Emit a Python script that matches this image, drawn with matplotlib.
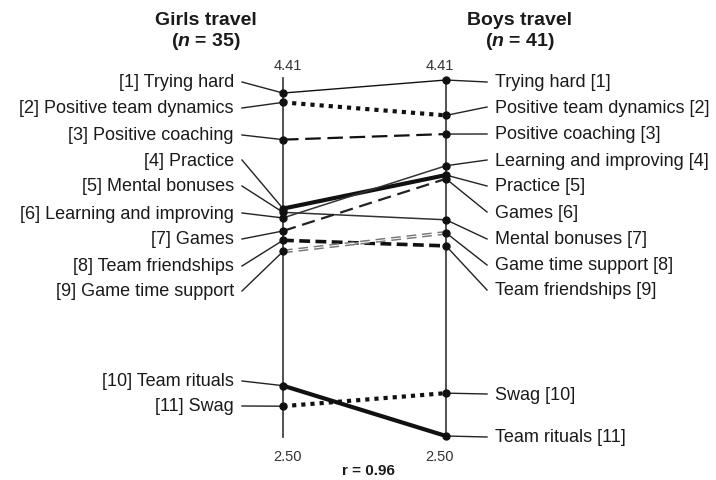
import matplotlib
matplotlib.use("Agg")
import matplotlib.pyplot as plt

plt.rcParams['font.family'] = ['Liberation Sans', 'DejaVu Sans']
plt.rcParams['mathtext.fontset'] = 'custom'
plt.rcParams['mathtext.bfit'] = 'Liberation Sans:bold:italic'
plt.rcParams['mathtext.rm'] = 'Liberation Sans:bold'

# ---- data ----
names = ["Trying hard", "Positive team dynamics", "Positive coaching", "Practice",
         "Mental bonuses", "Learning and improving", "Games", "Team friendships",
         "Game time support", "Team rituals", "Swag"]
girls_rank = [1, 2, 3, 4, 5, 6, 7, 8, 9, 10, 11]
boys_rank = [1, 2, 3, 5, 7, 4, 6, 9, 8, 11, 10]
girls = [4.34, 4.29, 4.09, 3.72, 3.70, 3.67, 3.60, 3.55, 3.49, 2.77, 2.66]
boys = [4.41, 4.22, 4.12, 3.90, 3.66, 3.95, 3.88, 3.52, 3.59, 2.50, 2.73]
vmin, vmax = 2.50, 4.41
titles = ["Girls travel", "Boys travel"]
ns = [35, 41]
r_text = "r = 0.96"

# ---- layout ----
W, H = 716, 481
X0, X1 = 283, 446          # axis pixel x
Y_TOP, Y_BOT = 81, 437     # pixel y (from top) of vmax / vmin
ppu = (Y_BOT - Y_TOP) / (vmax - vmin)

def px2x(px):
    return (px - X0) / (X1 - X0)

def px2v(py):
    return vmin + (Y_BOT - py) / ppu

# label slots, indexed by rank
left_label_py = [83, 109, 136, 161, 187, 214, 240, 267, 292, 382, 407]
right_label_py = [83, 108, 135, 161, 187, 213, 240, 266, 291, 395, 438]

styles = [
    dict(lw=1.0, ls='-', color='#111111'),
    dict(lw=3.0, ls=(0, (1, 1.2)), color='#111111'),
    dict(lw=1.6, ls=(0, (7, 3)), color='#111111'),
    dict(lw=3.0, ls='-', color='#111111'),
    dict(lw=1.1, ls='-', color='#333333'),
    dict(lw=1.1, ls='-', color='#333333'),
    dict(lw=1.6, ls=(0, (6, 3)), color='#222222'),
    dict(lw=2.6, ls=(0, (3, 1.5)), color='#111111'),
    dict(lw=2.8, ls=(0, (2.5, 1.5)), color='#777777'),
    dict(lw=3.0, ls='-', color='#111111'),
    dict(lw=3.0, ls=(0, (1, 1.2)), color='#111111'),
]
double_line = [False] * 8 + [True] + [False] * 2

fig = plt.figure(figsize=(W / 100, H / 100), dpi=100)
ax = fig.add_axes([0, 0, 1, 1])
ax.set_xlim(px2x(0), px2x(W))
ax.set_ylim(px2v(H), px2v(0))
ax.axis('off')

txt = '#1a1a1a'
# vertical axes
for xa in (0, 1):
    ax.plot([xa, xa], [px2v(438), px2v(79)], color='#333333', lw=1.2, zorder=1)

# slope lines
for i in range(len(names)):
    ax.plot([0, 1], [girls[i], boys[i]], solid_capstyle='butt', dash_capstyle='butt',
            zorder=2, **styles[i])
    if double_line[i]:
        ax.plot([0, 1], [girls[i], boys[i]], color='white', lw=0.7, zorder=2.1)

# leaders, labels and points
for i, nm in enumerate(names):
    ly = px2v(left_label_py[girls_rank[i] - 1])
    ry = px2v(right_label_py[boys_rank[i] - 1])
    ax.plot([px2x(242), 0], [ly, girls[i]], color='#222222', lw=1.0, zorder=2.2)
    ax.plot([1, px2x(487)], [boys[i], ry], color='#222222', lw=1.0, zorder=2.2)
    ax.text(px2x(234), ly, f"[{girls_rank[i]}] {nm}", ha='right', va='center',
            fontsize=13, color=txt)
    ax.text(px2x(495), ry, f"{nm} [{boys_rank[i]}]", ha='left', va='center',
            fontsize=13, color=txt)
ax.plot([0] * len(girls), girls, 'o', color='#111111', ms=5, zorder=4)
ax.plot([1] * len(boys), boys, 'o', color='#111111', ms=5, zorder=4)

# tick labels
for xpx in (288, 440):
    ax.text(px2x(xpx), px2v(66), f"{vmax:.2f}", ha='center', va='center',
            fontsize=10.5, color='#333333')
    ax.text(px2x(xpx), px2v(457), f"{vmin:.2f}", ha='center', va='center',
            fontsize=10.5, color='#333333')

# titles
for xpx, t, n in zip((206, 520), titles, ns):
    ax.text(px2x(xpx), px2v(20), t, ha='center', va='center', fontsize=14,
            fontweight='bold', color=txt)
    ax.text(px2x(xpx), px2v(42), rf"($\mathbfit{{n}}$ = {n})", ha='center',
            va='center', fontsize=14, fontweight='bold', color=txt)

ax.text(px2x(368), px2v(471), r_text, ha='center', va='center', fontsize=11,
        fontweight='bold', color=txt)

fig.savefig("out.png", dpi=100, facecolor='white')
